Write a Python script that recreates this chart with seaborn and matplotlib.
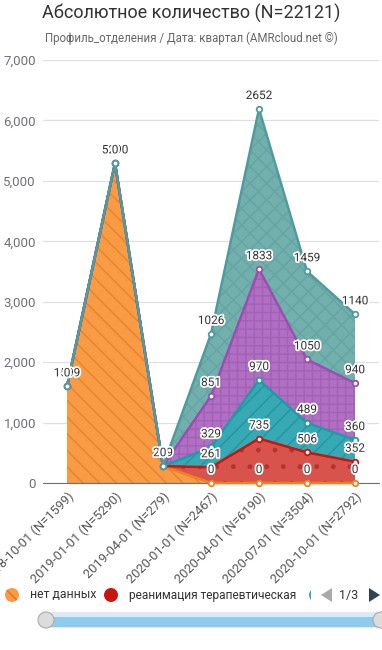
import numpy as np
import pandas as pd
import seaborn as sns
import matplotlib.pyplot as plt
import matplotlib.patheffects as pe
from matplotlib.patches import Circle, FancyBboxPatch, Polygon, Rectangle

# data
dates = ['2018-10-01', '2019-01-01', '2019-04-01', '2020-01-01',
         '2020-04-01', '2020-07-01', '2020-10-01']
totals = [1599, 5290, 279, 2467, 6190, 3504, 2792]
series_names = ['нет данных', 'реанимация терапевтическая', 'серия 3', 'серия 4', 'серия 5']
no_data = [1599, 5290, 279, 0, 0, 0, 0]
reanim = [0, 0, 0, 261, 735, 506, 352]
series3 = [0, 0, 0, 329, 970, 489, 360]
series4 = [0, 0, 0, 851, 1833, 1050, 940]
series5 = [0, 0, 0, 1026, 2652, 1459, 1140]
y_ticks = [0, 1000, 2000, 3000, 4000, 5000, 6000, 7000]

values = [no_data, reanim, series3, series4, series5]
line_colors = ['#f0821e', '#c8160e', '#1f9aa8', '#9a4fb0', '#4f9c9c']
fill_colors = ['#f99a45', '#d9534d', '#36a9b5', '#b06fc2', '#72b0ae']
hatch_colors = ['#e6872f', '#b0362e', '#2796a2', '#a162b5', '#66a5a3']
hatches = ['\\\\', '.', '//', '++', 'xx']

labels = [f'{d} (N={n})' for d, n in zip(dates, totals)]

df = pd.DataFrame({'x': np.arange(len(dates))})
for name, v in zip(series_names, values):
    df[name] = v
cum = df[series_names].cumsum(axis=1)

sns.set_style('white')
plt.rcParams['font.family'] = ['Roboto', 'DejaVu Sans']
plt.rcParams['hatch.linewidth'] = 1.1

fig = plt.figure(figsize=(3.82, 6.5), dpi=100)
ax = fig.add_axes([43 / 382, 167 / 650, 336 / 382, 423 / 650])

# stacked areas first, then all lines with markers on top
prev = np.zeros(len(dates))
for i, name in enumerate(series_names):
    top = cum[name].values
    ax.fill_between(df['x'], prev, top, facecolor=fill_colors[i],
                    edgecolor=hatch_colors[i], hatch=hatches[i], linewidth=0,
                    zorder=2 + i)
    prev = top

for i, name in enumerate(series_names):
    sns.lineplot(x=df['x'], y=cum[name].values, ax=ax, color=line_colors[i],
                 linewidth=1.8, marker='o', markersize=4, markerfacecolor='white',
                 markeredgecolor=line_colors[i], markeredgewidth=1.3,
                 zorder=10 + i, clip_on=False)

# value labels
for i, name in enumerate(series_names):
    for x, y, v in zip(df['x'], cum[name], df[name]):
        ax.annotate(str(v), (x, y), xytext=(0, 5), textcoords='offset points',
                    ha='center', va='bottom', fontsize=8.5, color='#333333',
                    zorder=20,
                    path_effects=[pe.withStroke(linewidth=2.5, foreground='white')])

ax.set_xlim(-0.5, len(dates) - 0.5)
ax.set_ylim(0, 7000)
ax.set_yticks(y_ticks)
ax.set_yticklabels([f'{t:,}' for t in y_ticks], fontsize=9.5, color='#6e7079')
ax.yaxis.grid(True, color='#e0e0e0', linewidth=0.9)
ax.set_axisbelow(True)
ax.tick_params(axis='y', length=0, pad=5)
ax.set_xticks(df['x'])
ax.set_xticklabels(labels, rotation=45, ha='right', rotation_mode='anchor',
                   fontsize=9.3, color='#555555')
ax.tick_params(axis='x', length=0, pad=5)
ax.set_xticks(np.arange(-0.5, len(dates)), minor=True)
ax.tick_params(axis='x', which='minor', length=4, color='#6e7079', width=1)
for s in ['top', 'right', 'left']:
    ax.spines[s].set_visible(False)
ax.spines['bottom'].set_color('#6e7079')
ax.set_xlabel('')
ax.set_ylabel('')

fig.text(0.5, 1 - 13 / 650, 'Абсолютное количество (N=22121)', ha='center',
         va='center', fontsize=13, color='#333333')
fig.text(0.5, 1 - 38 / 650, 'Профиль_отделения / Дата: квартал (AMRcloud.net ©)',
         ha='center', va='center', fontsize=8.3, color='#666666')

# legend (page 1 of 3)
W, H = 382, 650
T = fig.dpi_scale_trans


def fx(px):
    return px / W


def fy(py):
    return 1 - py / H


ly = 595
fig.patches.append(Circle((12 / 100, (H - ly) / 100), 7 / 100, transform=T,
                          facecolor=fill_colors[0], edgecolor='#e07718',
                          hatch='\\\\', linewidth=0))
fig.patches.append(Circle((111 / 100, (H - ly) / 100), 7 / 100, transform=T,
                          facecolor='#c8160e', linewidth=0))
fig.text(fx(30), fy(ly), 'нет данных', va='center', fontsize=8.8, color='#333333')
fig.text(fx(129), fy(ly), 'реанимация терапевтическая', va='center',
         fontsize=8.6, color='#333333')
part = Circle((316 / 100, (H - ly) / 100), 7 / 100, transform=T,
              facecolor=fill_colors[2], linewidth=0)
fig.patches.append(part)
fig.patches.append(Rectangle((311 / 100, (H - ly - 9) / 100), 14 / 100, 18 / 100,
                             transform=T, facecolor='white', linewidth=0))
fig.patches.append(Polygon([(321 / 100, (H - ly) / 100), (332 / 100, (H - ly + 7) / 100),
                            (332 / 100, (H - ly - 7) / 100)],
                           transform=T, facecolor='#aaaaaa', linewidth=0))
fig.text(fx(349), fy(ly), '1/3', ha='center', va='center', fontsize=9, color='#333333')
fig.patches.append(Polygon([(380 / 100, (H - ly) / 100), (369 / 100, (H - ly + 7) / 100),
                            (369 / 100, (H - ly - 7) / 100)],
                           transform=T, facecolor='#2f4554', linewidth=0))

# zoom slider
fig.patches.append(FancyBboxPatch((45 / 100, (H - 628) / 100), 345 / 100, 16 / 100,
                                  boxstyle='round,pad=0,rounding_size=0.08',
                                  transform=T, facecolor='#dfe8f5', linewidth=0))
fig.patches.append(FancyBboxPatch((45 / 100, (H - 627) / 100), 345 / 100, 10 / 100,
                                  boxstyle='round,pad=0,rounding_size=0.05',
                                  transform=T, facecolor='#8fcbee', linewidth=0))
for hx in [46, 381]:
    fig.patches.append(Circle((hx / 100, (H - 620) / 100), 8 / 100,
                              transform=T, facecolor='#dcdcdc',
                              edgecolor='#aaaaaa', linewidth=0.8))

fig.savefig('out.png', dpi=100)
